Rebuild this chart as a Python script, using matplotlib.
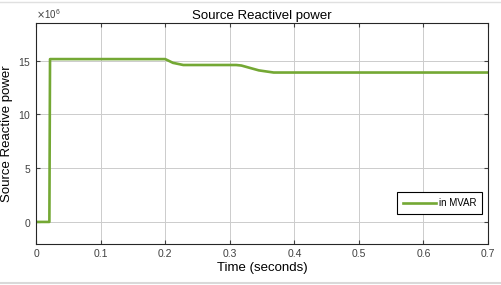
import numpy as np
import matplotlib
matplotlib.use("Agg")
import matplotlib.pyplot as plt

plt.rcParams.update({"font.family": ["Liberation Sans", "DejaVu Sans"], "font.size": 8})

# breakpoints of the source reactive power trace (seconds, VAR)
time_s = [0.0, 0.0205, 0.0215, 0.200, 0.212, 0.228, 0.310, 0.318, 0.345, 0.368, 0.700]
q_var = [0.0, 0.0, 15.15e6, 15.15e6, 14.8e6, 14.6e6, 14.6e6, 14.55e6, 14.1e6, 13.9e6, 13.9e6]
xticks = [0, 0.1, 0.2, 0.3, 0.4, 0.5, 0.6, 0.7]
yticks = [0, 5e6, 10e6, 15e6]

fig = plt.figure(figsize=(5.02, 2.85), dpi=100)
ax = fig.add_axes([0.072, 0.144, 0.9, 0.775])
ax.plot(time_s, q_var, color="#74a834", lw=1.9, label="in MVAR")
ax.set_xlim(0, 0.7)
ax.set_ylim(-2.05e6, 18.5e6)
ax.set_xticks(xticks)
ax.set_xticklabels(["0", "0.1", "0.2", "0.3", "0.4", "0.5", "0.6", "0.7"])
ax.set_yticks(yticks)
ax.ticklabel_format(axis="y", style="sci", scilimits=(6, 6), useMathText=True)
ax.yaxis.get_offset_text().set_fontsize(7)
ax.tick_params(labelsize=7.5, length=3, direction="in", top=True, right=True, colors="0.25")
ax.grid(True, color="0.8", lw=0.7)
for s in ax.spines.values():
    s.set_color("0.15"); s.set_linewidth(0.8)
ax.set_title("Source Reactivel power", fontsize=9.5, pad=3)
ax.set_xlabel("Time (seconds)", fontsize=9.5, labelpad=2)
ax.set_ylabel("Source Reactive power", fontsize=9.5, labelpad=4)
leg = ax.legend(loc="lower right", bbox_to_anchor=(0.987, 0.135), fontsize=7, fancybox=False,
                framealpha=1, edgecolor="black", handlelength=3.4, handletextpad=0.3,
                borderpad=0.6, borderaxespad=0)
leg.get_frame().set_linewidth(0.8)
# faint outer frame lines of the exported window
fig.add_artist(plt.Line2D([0, 1], [0.993, 0.993], color="0.88", lw=1))
fig.add_artist(plt.Line2D([0, 1], [0.008, 0.008], color="0.85", lw=1.5))
fig.savefig("out.png", dpi=100)
